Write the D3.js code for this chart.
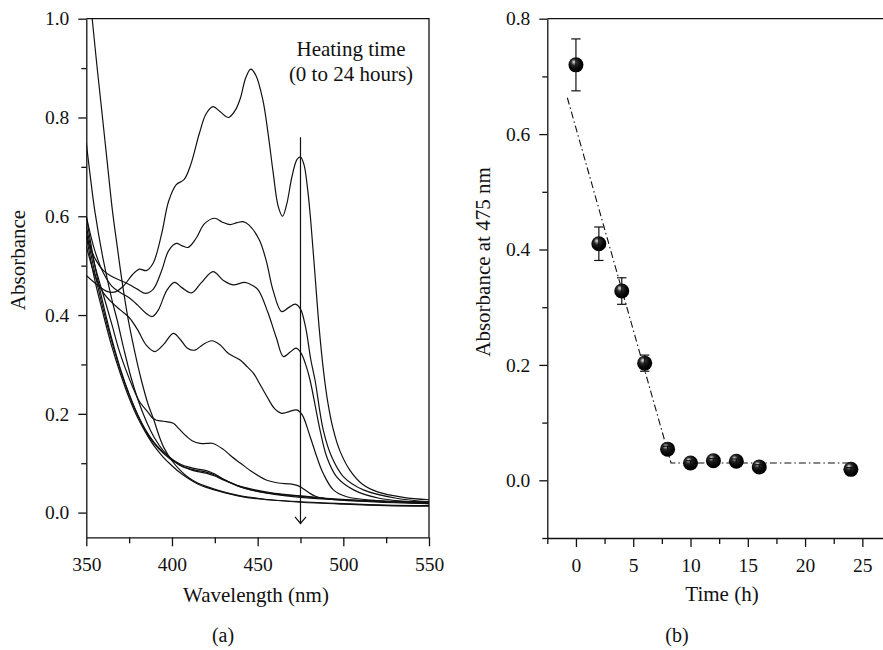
<!DOCTYPE html>
<html>
<head>
<meta charset="utf-8">
<script src="https://cdn.jsdelivr.net/npm/d3@7"></script>
<style>
  body { margin: 0; background: #fff; }
  text { font-family: "Liberation Serif", "DejaVu Serif", serif; fill: #111; }
  .axis text { font-size: 19.5px; }
  .axis path, .axis line { stroke: #111; stroke-width: 1.3; }
</style>
</head>
<body>
<svg id="fig" width="883" height="650"></svg>
<script>
// ---- panel (a): absorption spectra, [wavelength nm, absorbance] ----
const spec0h = [[350,0.480],[356,0.462],[362,0.448],[367,0.447],[372,0.460],[377,0.482],[381,0.493],[385,0.490],[389,0.505],[394,0.565],[398,0.630],[402.5,0.664],[407,0.674],[411,0.705],[416,0.768],[420,0.808],[424,0.822],[428,0.812],[433,0.800],[437,0.815],[440,0.840],[443,0.880],[446,0.898],[449,0.885],[453,0.836],[456,0.770],[459,0.690],[462,0.620],[464.5,0.600],[467,0.625],[470,0.680],[473,0.715],[475,0.720],[477,0.705],[479,0.660],[481,0.590],[483.5,0.480],[486,0.370],[488.5,0.285],[491,0.222],[494,0.170],[498,0.125],[504,0.085],[511,0.058],[520,0.042],[535,0.031],[550,0.026]];
const spec2h = [[350,0.560],[355,0.515],[360,0.490],[365,0.478],[370,0.470],[375,0.462],[380,0.452],[384.5,0.444],[389,0.452],[394,0.490],[398,0.530],[402.5,0.545],[406,0.540],[409.5,0.537],[414,0.555],[419,0.585],[425,0.596],[429.5,0.588],[434,0.583],[438,0.587],[441.5,0.589],[445,0.582],[451,0.552],[455,0.510],[459,0.450],[464,0.407],[468,0.415],[472,0.422],[475,0.412],[478,0.375],[481,0.310],[483.5,0.268],[488.3,0.167],[493.2,0.113],[500,0.073],[511.7,0.046],[531,0.029],[550,0.022]];
const spec4h = [[350,0.600],[355,0.530],[360,0.485],[365,0.458],[370,0.445],[375,0.435],[380,0.420],[385,0.403],[388.5,0.397],[392,0.410],[397,0.450],[401.5,0.466],[406,0.455],[411.5,0.445],[417,0.465],[424,0.488],[430,0.470],[435.5,0.461],[442.5,0.466],[447,0.460],[450.5,0.450],[456,0.405],[461,0.353],[465,0.316],[469,0.325],[472.5,0.333],[475.5,0.322],[478,0.300],[480.6,0.268],[486.4,0.167],[490.3,0.113],[496,0.073],[506,0.046],[521,0.029],[550,0.020]];
const spec6h = [[350,0.540],[355,0.480],[360,0.445],[365,0.425],[370,0.410],[375,0.395],[380,0.370],[385,0.339],[390,0.326],[395,0.340],[400.8,0.363],[405,0.350],[409,0.333],[413.4,0.329],[418,0.340],[423.2,0.348],[428,0.340],[433,0.322],[439.8,0.309],[444,0.295],[447.6,0.282],[451,0.262],[455.4,0.235],[460,0.210],[464,0.201],[468,0.204],[472.8,0.208],[476,0.198],[480.6,0.154],[484.5,0.113],[488.3,0.079],[494.2,0.046],[502,0.032],[520,0.024],[550,0.018]];
const spec8h = [[350,0.580],[355,0.500],[360,0.440],[365,0.380],[369,0.330],[373,0.290],[377,0.255],[381,0.225],[385.6,0.205],[388.5,0.192],[391,0.187],[395,0.185],[400.8,0.181],[404,0.170],[408.6,0.154],[412,0.145],[416.4,0.140],[420,0.140],[424,0.140],[430,0.128],[435,0.113],[440,0.100],[447,0.082],[455,0.066],[462,0.060],[469,0.058],[473,0.055],[476,0.050],[480,0.040],[484.5,0.032],[495,0.026],[510,0.023],[530,0.020],[550,0.018]];
const spec10h = [[350,0.600],[355,0.500],[360,0.420],[365,0.350],[370,0.290],[375,0.240],[380,0.198],[385,0.165],[390,0.140],[395,0.122],[400,0.108],[405,0.098],[410,0.092],[415,0.088],[420,0.085],[425,0.078],[430,0.068],[440,0.052],[450,0.043],[460,0.037],[475,0.031],[490,0.027],[510,0.024],[530,0.022],[550,0.021]];
const spec12h = [[350,0.570],[355,0.485],[360,0.410],[365,0.345],[370,0.287],[375,0.238],[380,0.197],[385,0.163],[390,0.138],[395,0.120],[400,0.106],[405,0.096],[410,0.089],[415,0.085],[420,0.082],[425,0.076],[430,0.067],[440,0.053],[450,0.045],[460,0.039],[475,0.034],[490,0.029],[510,0.025],[530,0.023],[550,0.022]];
const spec14h = [[350,0.748],[352,0.690],[355,0.610],[360,0.510],[365,0.430],[368,0.390],[372,0.330],[376,0.275],[380,0.230],[385,0.185],[390,0.150],[395,0.125],[400,0.108],[405,0.095],[410,0.088],[415,0.083],[420,0.080],[425,0.074],[430,0.066],[440,0.052],[450,0.043],[460,0.038],[475,0.033],[490,0.028],[510,0.024],[530,0.022],[550,0.020]];
const spec16h = [[350,0.560],[355,0.470],[360,0.400],[365,0.335],[370,0.280],[375,0.232],[380,0.192],[385,0.160],[390,0.133],[395,0.112],[400,0.095],[405,0.080],[410,0.068],[415,0.058],[420,0.051],[430,0.041],[440,0.033],[450,0.028],[460,0.025],[475,0.022],[500,0.018],[525,0.015],[550,0.014]];
const spec24h = [[350,1.120],[353.5,0.998],[356.5,0.895],[359.6,0.795],[362.5,0.700],[365.2,0.613],[368,0.540],[371,0.465],[374.5,0.390],[378,0.330],[382,0.270],[386,0.220],[389.5,0.187],[392.5,0.155],[395.5,0.130],[400,0.105],[405,0.085],[410,0.070],[415,0.060],[420,0.053],[430,0.042],[440,0.034],[450,0.029],[460,0.025],[475,0.021],[500,0.017],[525,0.014],[550,0.013]];
const spectra = [spec0h, spec2h, spec4h, spec6h, spec8h, spec10h, spec12h, spec14h, spec16h, spec24h];

const wlTicks = [350, 400, 450, 500, 550];
const wlMinor = [375, 425, 475, 525];
const absTicksA = [0, 0.2, 0.4, 0.6, 0.8, 1.0];
const absMinorA = [0.1, 0.3, 0.5, 0.7, 0.9];
const arrowWl = 475, arrowTop = 0.76, arrowBottom = -0.022;

// ---- panel (b): absorbance at 475 nm vs heating time ----
const times = [0, 2, 4, 6, 8, 10, 12, 14, 16, 24];
const abs475 = [0.720, 0.410, 0.328, 0.203, 0.054, 0.030, 0.034, 0.033, 0.023, 0.019];
const abs475Err = [0.045, 0.029, 0.023, 0.014, 0.005, 0.004, 0.004, 0.004, 0.004, 0.003];
const fitTime = [-0.75, 8.3, 24];
const fitAbs = [0.663, 0.030, 0.030];
const timeTicks = [0, 5, 10, 15, 20, 25];
const timeMinor = [-2.5, 2.5, 7.5, 12.5, 17.5, 22.5];
const absTicksB = [0, 0.2, 0.4, 0.6, 0.8];
const absMinorB = [-0.1, 0.1, 0.3, 0.5, 0.7];

const svg = d3.select("#fig");
svg.append("rect").attr("width", 883).attr("height", 650).attr("fill", "#fff");

const fmt = d3.format(".1f");

// ---------- panel (a) ----------
const xA = d3.scaleLinear().domain([350, 550]).range([86.3, 429]);
const yA = d3.scaleLinear().domain([-0.05, 1.0]).range([537.3, 18.7]);

svg.append("clipPath").attr("id", "clipA")
  .append("rect")
  .attr("x", xA(350)).attr("y", yA(1.0))
  .attr("width", xA(550) - xA(350)).attr("height", yA(-0.05) - yA(1.0));

const lineA = d3.line()
  .x(d => xA(d[0]))
  .y(d => yA(d[1]))
  .curve(d3.curveCatmullRom.alpha(0.5));

svg.append("g")
  .attr("clip-path", "url(#clipA)")
  .selectAll("path")
  .data(spectra)
  .join("path")
  .attr("d", lineA)
  .attr("fill", "none")
  .attr("stroke", "#111")
  .attr("stroke-width", 1.2);

// frame
svg.append("path")
  .attr("d", `M${xA(350)},${yA(1.0)}H${xA(550)}V${yA(-0.05)}`)
  .attr("fill", "none").attr("stroke", "#111").attr("stroke-width", 1.3);

svg.append("g").attr("class", "axis")
  .attr("transform", `translate(${xA(350)},0)`)
  .call(d3.axisLeft(yA).tickValues(absTicksA).tickFormat(fmt).tickSize(8).tickSizeOuter(0).tickPadding(9));
svg.append("g").attr("class", "axis")
  .attr("transform", `translate(${xA(350)},0)`)
  .call(d3.axisLeft(yA).tickValues(absMinorA).tickFormat("").tickSize(5).tickSizeOuter(0))
  .call(g => g.select(".domain").remove());

svg.append("g").attr("class", "axis")
  .attr("transform", `translate(0,${yA(-0.05)})`)
  .call(d3.axisBottom(xA).tickValues(wlTicks).tickSize(9).tickSizeOuter(0).tickPadding(11));
svg.append("g").attr("class", "axis")
  .attr("transform", `translate(0,${yA(-0.05)})`)
  .call(d3.axisBottom(xA).tickValues(wlMinor).tickFormat("").tickSize(6).tickSizeOuter(0))
  .call(g => g.select(".domain").remove());

// arrow
svg.append("line")
  .attr("x1", xA(arrowWl)).attr("x2", xA(arrowWl))
  .attr("y1", yA(arrowTop)).attr("y2", yA(arrowBottom))
  .attr("stroke", "#111").attr("stroke-width", 1.2);
svg.append("path")
  .attr("d", `M${xA(arrowWl) - 5.5},${yA(arrowBottom) - 6.5}L${xA(arrowWl)},${yA(arrowBottom)}L${xA(arrowWl) + 5.5},${yA(arrowBottom) - 6.5}`)
  .attr("fill", "none").attr("stroke", "#111").attr("stroke-width", 1.2);

svg.append("text").attr("x", 351).attr("y", 56).attr("text-anchor", "middle")
  .style("font-size", "21px").text("Heating time");
svg.append("text").attr("x", 351).attr("y", 81).attr("text-anchor", "middle")
  .style("font-size", "21px").text("(0 to 24 hours)");

svg.append("text").attr("x", 256).attr("y", 602).attr("text-anchor", "middle")
  .style("font-size", "21px").text("Wavelength (nm)");
svg.append("text").attr("transform", "translate(25,260) rotate(-90)").attr("text-anchor", "middle")
  .style("font-size", "21px").text("Absorbance");
svg.append("text").attr("x", 223).attr("y", 642).attr("text-anchor", "middle")
  .style("font-size", "20px").text("(a)");

// ---------- panel (b) ----------
const xB = d3.scaleLinear().domain([-2.5, 27.5]).range([547.3, 891]);
const yB = d3.scaleLinear().domain([-0.1, 0.8]).range([538, 18.7]);

svg.append("line")
  .attr("x1", xB(-2.5)).attr("x2", 883)
  .attr("y1", yB(0.8)).attr("y2", yB(0.8))
  .attr("stroke", "#111").attr("stroke-width", 1.3);

svg.append("g").attr("class", "axis")
  .attr("transform", `translate(${xB(-2.5)},0)`)
  .call(d3.axisLeft(yB).tickValues(absTicksB).tickFormat(fmt).tickSize(8).tickSizeOuter(0).tickPadding(9));
svg.append("g").attr("class", "axis")
  .attr("transform", `translate(${xB(-2.5)},0)`)
  .call(d3.axisLeft(yB).tickValues(absMinorB).tickFormat("").tickSize(5).tickSizeOuter(0))
  .call(g => g.select(".domain").remove());

svg.append("g").attr("class", "axis")
  .attr("transform", `translate(0,${yB(-0.1)})`)
  .call(d3.axisBottom(xB).tickValues(timeTicks).tickSize(9).tickSizeOuter(0).tickPadding(11));
svg.append("g").attr("class", "axis")
  .attr("transform", `translate(0,${yB(-0.1)})`)
  .call(d3.axisBottom(xB).tickValues(timeMinor).tickFormat("").tickSize(6).tickSizeOuter(0))
  .call(g => g.select(".domain").remove());

// dash-dot guide line
svg.append("path")
  .datum(fitTime.map((t, i) => [t, fitAbs[i]]))
  .attr("d", d3.line().x(d => xB(d[0])).y(d => yB(d[1])))
  .attr("fill", "none").attr("stroke", "#111").attr("stroke-width", 1.1)
  .attr("stroke-dasharray", "7,3,1.5,3");

// sphere gradient
const grad = svg.append("defs").append("radialGradient")
  .attr("id", "sphere").attr("cx", "42%").attr("cy", "38%").attr("r", "60%")
  .attr("fx", "36%").attr("fy", "30%");
grad.append("stop").attr("offset", "0%").attr("stop-color", "#e8e8e8");
grad.append("stop").attr("offset", "14%").attr("stop-color", "#9a9a9a");
grad.append("stop").attr("offset", "34%").attr("stop-color", "#2a2a2a");
grad.append("stop").attr("offset", "70%").attr("stop-color", "#050505");
grad.append("stop").attr("offset", "100%").attr("stop-color", "#000");

const pts = times.map((t, i) => ({t, a: abs475[i], e: abs475Err[i]}));

svg.append("g").selectAll("circle")
  .data(pts)
  .join("circle")
  .attr("cx", d => xB(d.t))
  .attr("cy", d => yB(d.a))
  .attr("r", 7.5)
  .attr("fill", "url(#sphere)");

const eb = svg.append("g").attr("stroke", "#111").attr("stroke-width", 1.2);
eb.selectAll(".stem").data(pts).join("line").attr("class", "stem")
  .attr("x1", d => xB(d.t)).attr("x2", d => xB(d.t))
  .attr("y1", d => yB(d.a + d.e)).attr("y2", d => yB(d.a - d.e));
eb.selectAll(".capt").data(pts).join("line").attr("class", "capt")
  .attr("x1", d => xB(d.t) - 4.7).attr("x2", d => xB(d.t) + 4.7)
  .attr("y1", d => yB(d.a + d.e)).attr("y2", d => yB(d.a + d.e));
eb.selectAll(".capb").data(pts).join("line").attr("class", "capb")
  .attr("x1", d => xB(d.t) - 4.7).attr("x2", d => xB(d.t) + 4.7)
  .attr("y1", d => yB(d.a - d.e)).attr("y2", d => yB(d.a - d.e));

svg.append("text").attr("x", 722).attr("y", 601).attr("text-anchor", "middle")
  .style("font-size", "21px").text("Time (h)");
svg.append("text").attr("transform", "translate(490,262) rotate(-90)").attr("text-anchor", "middle")
  .style("font-size", "21px").text("Absorbance at 475 nm");
svg.append("text").attr("x", 677).attr("y", 642).attr("text-anchor", "middle")
  .style("font-size", "20px").text("(b)");
</script>
</body>
</html>
